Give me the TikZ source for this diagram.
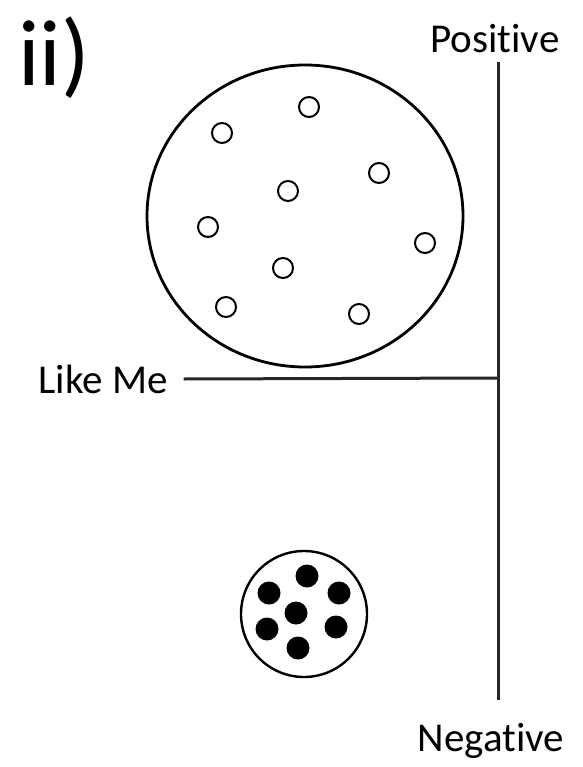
\documentclass[tikz,border=0pt]{standalone}
\usepackage{fontspec}
\setmainfont[Ligatures=NoCommon]{Carlito}
\usetikzlibrary{positioning}

\begin{document}
\begin{tikzpicture}[x=1pt,y=-1pt,
    axis/.style={line width=3pt,draw=black!85},
    lbl/.style={inner sep=0pt,font=\fontsize{41}{48}\selectfont},
    group/.style={draw=black,line width=2.8pt,fill=white},
    member/.style={circle,draw=black,line width=2pt,minimum size=20pt,inner sep=0pt},
    kin/.style={circle,fill=black,minimum size=23pt,inner sep=0pt}]
  \useasboundingbox (0,0) rectangle (582,767);
  \node[inner sep=0pt,font=\fontsize{94}{100}\selectfont] (tag) at (54,58) {ii)};
  \node[lbl] (pos) at (495,39) {Positive};
  \node[lbl] (neg) at (491,741) {Negative};
  \node[lbl] (like) at (103,379) {Like Me};
  \coordinate (top) at (498,62);
  \coordinate (bot) at (498,700);
  \coordinate (mid) at (498,378);
  \draw[axis] (top) -- (bot);
  \draw[axis] (like.east) ++(16,0) coordinate (lm) -- (mid);
  % others: open circle group
  \draw[group] (305,216) ellipse [x radius=158, y radius=151];
  \foreach \x/\y [count=\i] in {309/107,222/133,379/173,288/191,208/227,425/243,283/268,226/307,359/314}
    \node[member] (o\i) at (\x,\y) {};
  % like me: filled dot group
  \node[group,circle,minimum size=126pt,inner sep=0pt,line width=2.4pt] (kgrp) at (304,614) {};
  \foreach \x/\y [count=\i] in {307/576,269/593,339/593,296/613,267/629,336/627,298/648}
    \node[kin] (k\i) at (\x,\y) {};
\end{tikzpicture}
\end{document}
